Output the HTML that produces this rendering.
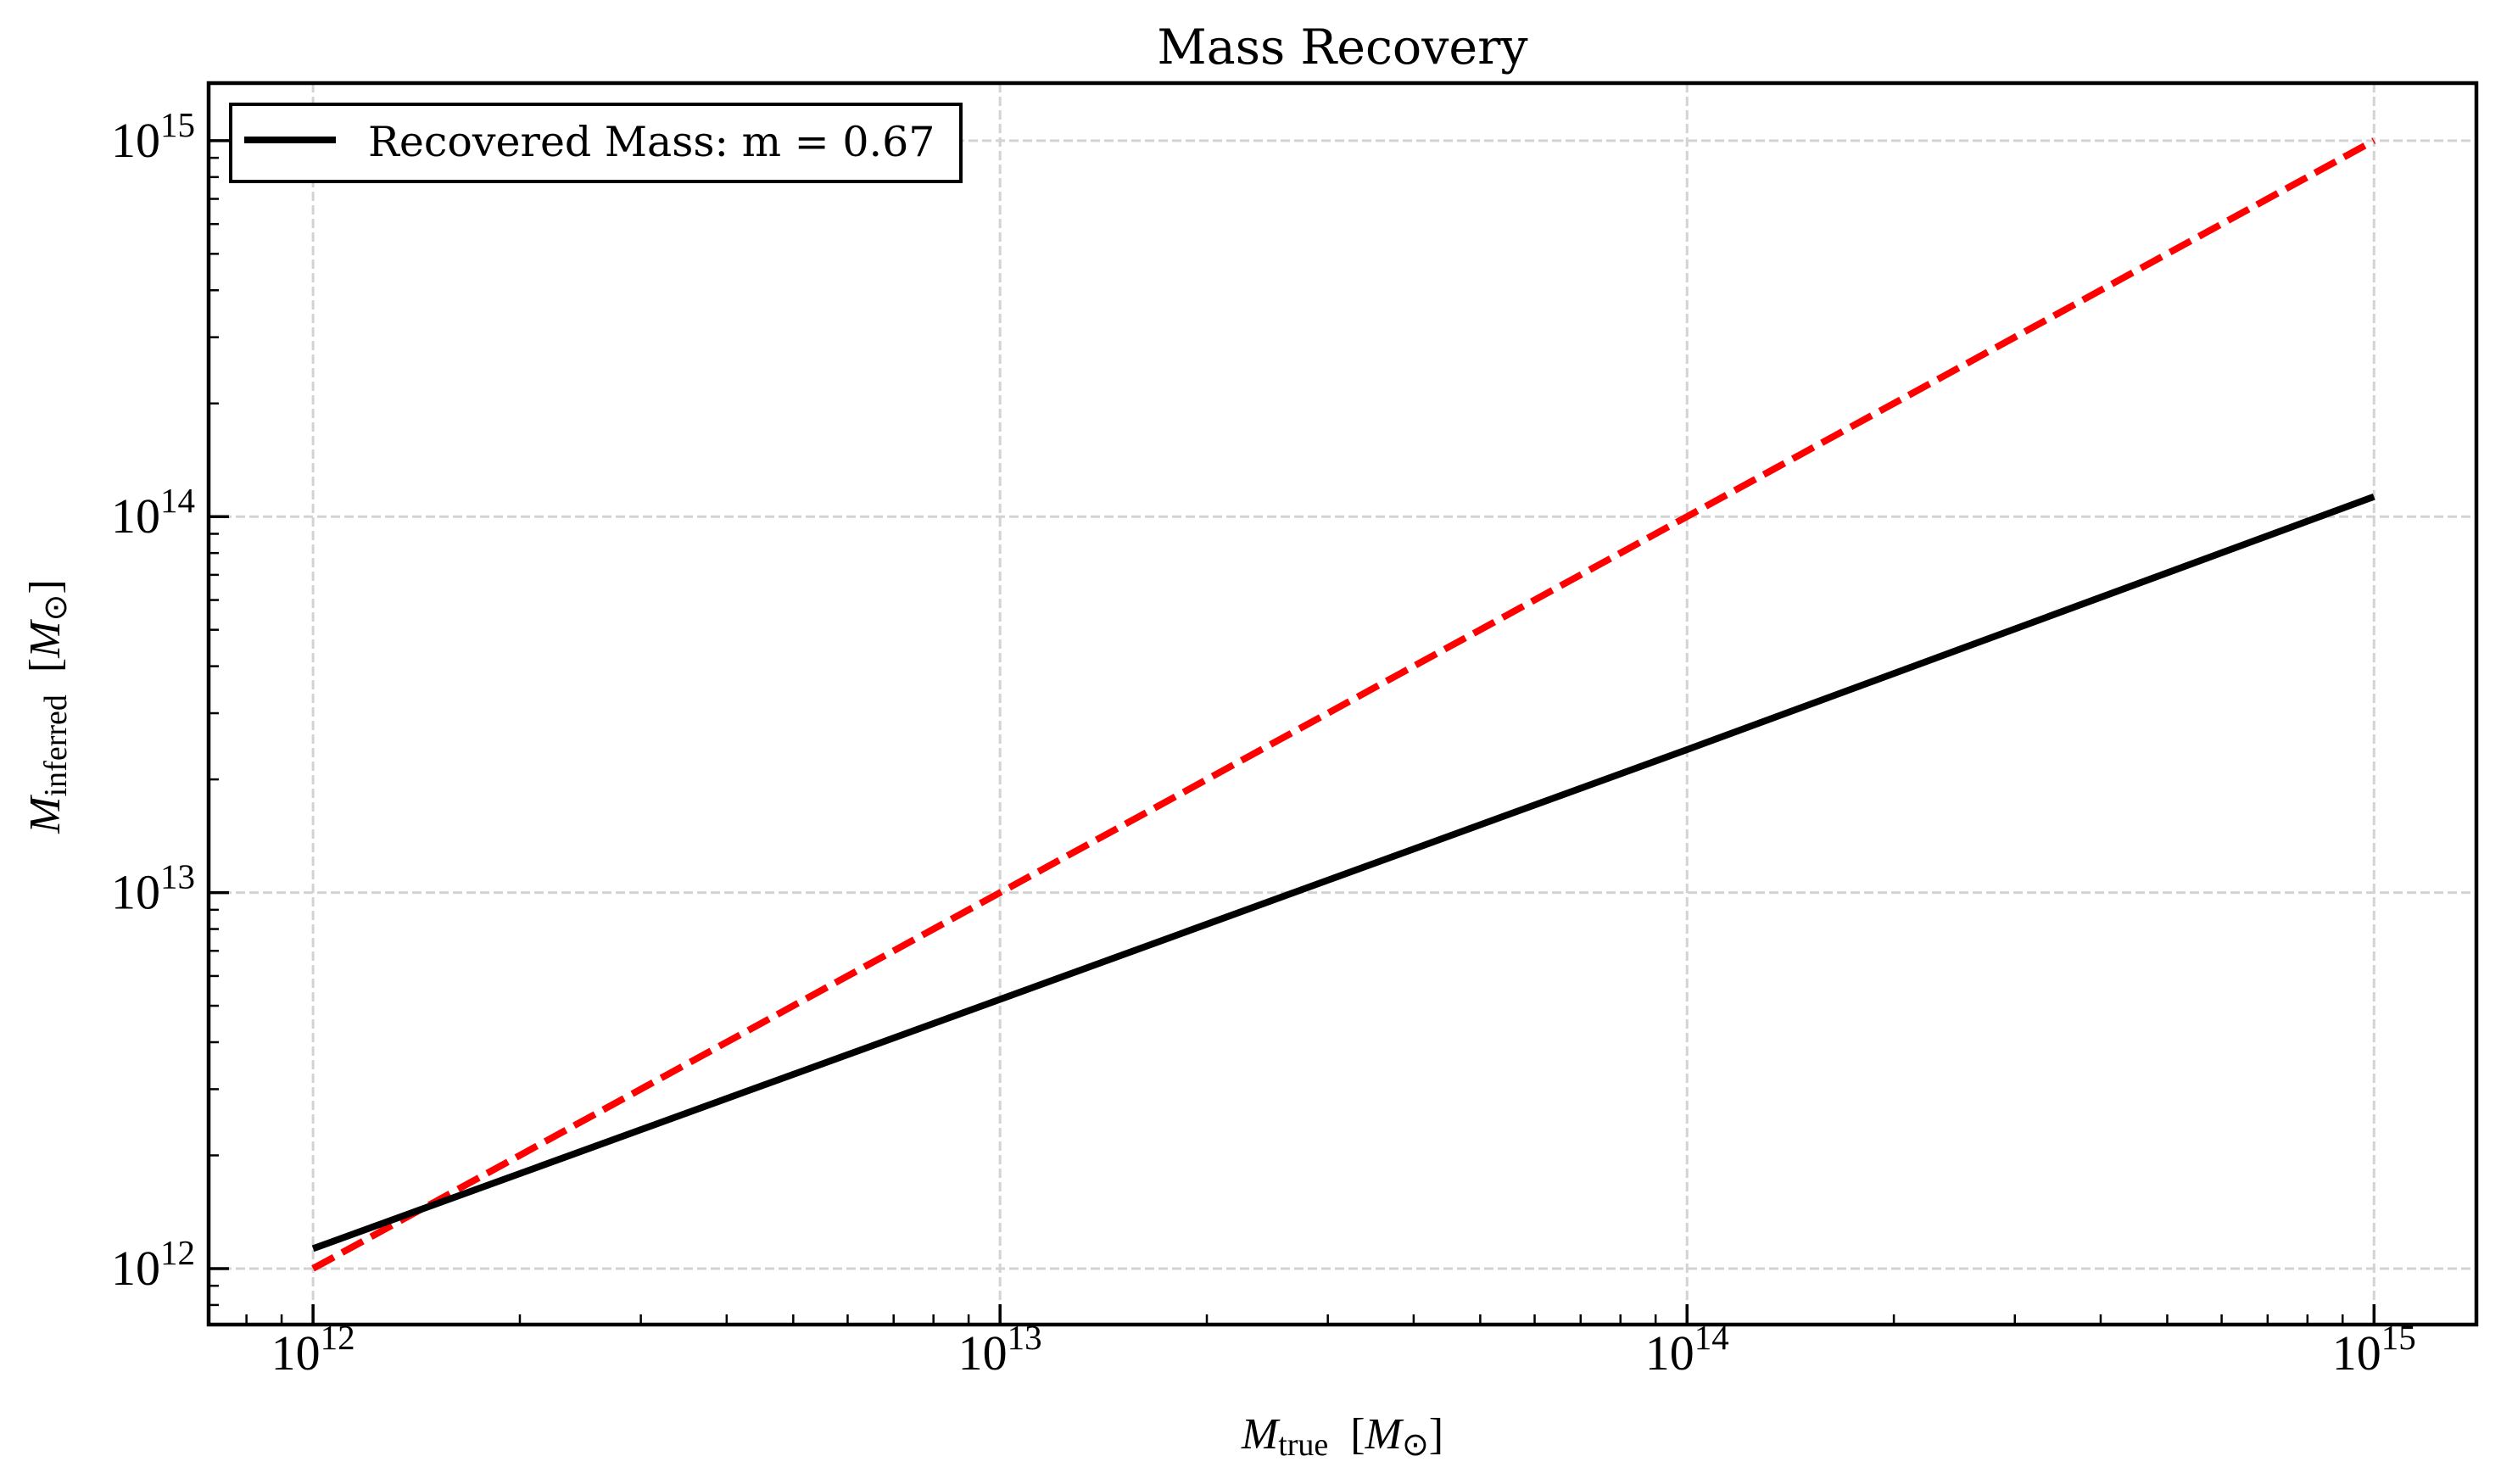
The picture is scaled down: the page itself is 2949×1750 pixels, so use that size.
<!DOCTYPE html>
<html><head><meta charset="utf-8"><style>
html,body{margin:0;padding:0;background:#fff}
svg{display:block}
text{font-family:"Liberation Serif",serif;fill:#000}
</style></head><body>
<svg id="chart" width="2949" height="1750" viewBox="0 0 2949 1750" xmlns="http://www.w3.org/2000/svg">
<rect x="0" y="0" width="2949" height="1750" fill="#fff"/>
<g id="grid"></g>
<g id="series"></g>
<g id="ticks"></g>
<rect x="246" y="98" width="2674" height="1464" fill="none" stroke="#000" stroke-width="4.5"/>
<text x="1583" y="75" text-anchor="middle" style="font-family:'DejaVu Serif',serif;font-size:57px">Mass Recovery</text>
<text x="1583" y="1708" text-anchor="middle" style="font-size:52px"><tspan font-style="italic">M</tspan><tspan font-size="38" dy="8">true</tspan><tspan dy="-8" xml:space="preserve">  [</tspan><tspan font-style="italic">M</tspan><tspan font-size="38" dy="8">⊙</tspan><tspan dy="-8">]</tspan></text>
<text transform="translate(70,833) rotate(-90)" text-anchor="middle" style="font-size:52px"><tspan font-style="italic">M</tspan><tspan font-size="38" dy="8">inferred</tspan><tspan dy="-8" xml:space="preserve">  [</tspan><tspan font-style="italic">M</tspan><tspan font-size="38" dy="8">⊙</tspan><tspan dy="-8">]</tspan></text>
<g>
<rect x="272" y="123" width="861" height="91" fill="#fff" stroke="#000" stroke-width="4"/>
<line x1="288" y1="165" x2="396" y2="165" stroke="#000" stroke-width="8"/>
<text x="434" y="184" style="font-family:'DejaVu Serif',serif;font-size:49px">Recovered Mass: m = 0.67</text>
</g>
</svg>
<script>
const xTrue = [1e12, 1e13, 1e14, 1e15];
const yRecovered = [1.13e12, 5.2e12, 2.4e13, 1.13e14];
const yIdentity = [1e12, 1e13, 1e14, 1e15];
const xTickExps = [12, 13, 14, 15];
const yTickExps = [12, 13, 14, 15];

const NS = "http://www.w3.org/2000/svg";
const L = 246, R = 2920, T = 98, B = 1562;
const xMin = 11.848, xMax = 15.149, yMin = 11.851, yMax = 15.153;
function sx(v){ return L + (Math.log10(v) - xMin) / (xMax - xMin) * (R - L); }
function sy(v){ return B - (Math.log10(v) - yMin) / (yMax - yMin) * (B - T); }
function mk(tag, attrs, parent){ const e = document.createElementNS(NS, tag); for (const k in attrs) e.setAttribute(k, attrs[k]); parent.appendChild(e); return e; }

const grid = document.getElementById('grid');
const ticks = document.getElementById('ticks');
const series = document.getElementById('series');

xTickExps.forEach(function(p){
  const x = sx(Math.pow(10, p));
  const g = mk('line', {x1:x, y1:T, x2:x, y2:B, stroke:'#d3d3d3', 'stroke-width':3, 'stroke-dasharray':'11,5'}, grid);
  
  
  const t = mk('line', {x1:x, y1:B, x2:x, y2:B-24, stroke:'#000', 'stroke-width':3.5}, ticks);
  
  
  const lb = mk('text', {x:x, y:1615, 'text-anchor':'middle', 'font-size':58}, ticks);
  
  
  lb.innerHTML = '10<tspan font-size="41" dy="-24">' + p + '</tspan>';
});
yTickExps.forEach(function(p){
  const y = sy(Math.pow(10, p));
  const g = mk('line', {x1:L, y1:y, x2:R, y2:y, stroke:'#d3d3d3', 'stroke-width':3, 'stroke-dasharray':'11,5'}, grid);
  
  
  const t = mk('line', {x1:L, y1:y, x2:L+24, y2:y, stroke:'#000', 'stroke-width':3.5}, ticks);
  
  
  const lb = mk('text', {x:230, y:y+19, 'text-anchor':'end', 'font-size':58}, ticks);
  
  
  lb.innerHTML = '10<tspan font-size="41" dy="-24">' + p + '</tspan>';
});
for (let p = 11; p <= 15; p++) {
  for (let m = 2; m <= 9; m++) {
    const v = m * Math.pow(10, p);
    const x = sx(v);
    if (x > L + 2 && x < R - 2) {
      const t = mk('line', {x1:x, y1:B, x2:x, y2:B-12, stroke:'#000', 'stroke-width':2.5}, ticks);
      
      
    }
    const y = sy(v);
    if (y > T + 2 && y < B - 2) {
      const t = mk('line', {x1:L, y1:y, x2:L+12, y2:y, stroke:'#000', 'stroke-width':2.5}, ticks);
      
      
    }
  }
}
function pts(ys){ return xTrue.map(function(x,i){ return sx(x).toFixed(1) + ',' + sy(ys[i]).toFixed(1); }).join(' '); }
const red = mk('polyline', {points:pts(yIdentity), fill:'none', stroke:'#ff0000', 'stroke-width':8, 'stroke-dasharray':'28,11'}, series);


const blk = mk('polyline', {points:pts(yRecovered), fill:'none', stroke:'#000', 'stroke-width':8}, series);


</script>
</body></html>
